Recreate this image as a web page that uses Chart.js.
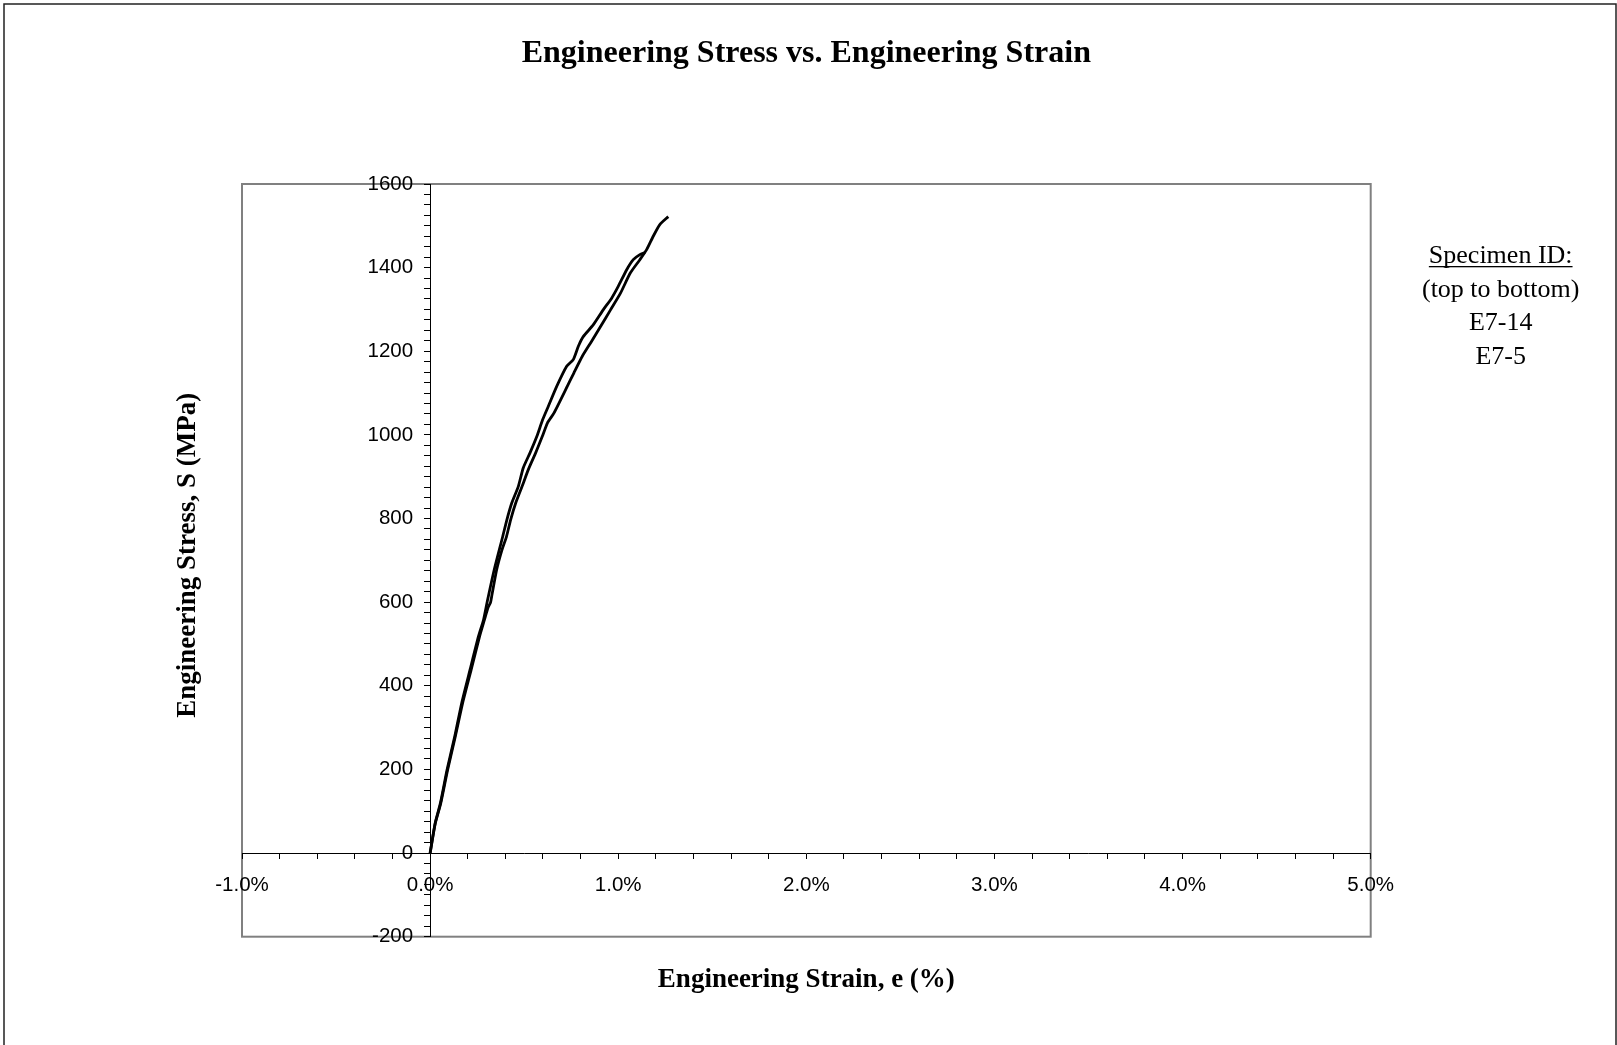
<!DOCTYPE html>
<html>
<head>
<meta charset="utf-8">
<script src="https://cdn.jsdelivr.net/npm/chart.js@4.4.1/dist/chart.umd.min.js"></script>
<style>
  html, body { margin: 0; padding: 0; background: #fff; }
  canvas { display: block; }
</style>
</head>
<body>
<canvas id="c" width="1617" height="1045"></canvas>
<script>
// ---- text ----
const chartTitle = 'Engineering Stress vs. Engineering Strain';
const xAxisTitle = 'Engineering Strain, e (%)';
const yAxisTitle = 'Engineering Stress, S (MPa)';
const noteLines = ['Specimen ID:', '(top to bottom)', 'E7-14', 'E7-5'];
const seriesNames = ['E7-14', 'E7-5'];

// ---- axes ----
const xTickValues = [-1, 0, 1, 2, 3, 4, 5];
const xTickLabels = ['-1.0%', '0.0%', '1.0%', '2.0%', '3.0%', '4.0%', '5.0%'];
const xMinorStep = 0.2;
const yTickValues = [-200, 0, 200, 400, 600, 800, 1000, 1200, 1400, 1600];
const yTickLabels = ['-200', '0', '200', '400', '600', '800', '1000', '1200', '1400', '1600'];
const yMinorStep = 25;

// ---- data: strain (%) and stress (MPa) ----
const strainE714 = [0, 0.027, 0.055, 0.090, 0.131, 0.168, 0.212, 0.257, 0.284, 0.304, 0.341, 0.386, 0.408, 0.434, 0.469, 0.495, 0.531, 0.567, 0.598, 0.628, 0.673, 0.726, 0.761, 0.788, 0.814, 0.867, 0.920, 0.965, 1.000, 1.045, 1.080, 1.115, 1.142];
const stressE714 = [0, 72, 120, 199, 279, 359, 438, 518, 558, 602, 678, 757, 797, 837, 877, 921, 957, 996, 1036, 1068, 1116, 1164, 1180, 1212, 1235, 1263, 1299, 1327, 1355, 1395, 1419, 1431, 1436];

const strainE75 = [0, 0.027, 0.056, 0.093, 0.134, 0.173, 0.218, 0.263, 0.289, 0.308, 0.321, 0.327, 0.354, 0.382, 0.406, 0.428, 0.455, 0.489, 0.522, 0.561, 0.596, 0.624, 0.658, 0.729, 0.764, 0.809, 0.853, 0.906, 0.959, 1.012, 1.064, 1.115, 1.151, 1.186, 1.221, 1.266];
const stressE75 = [0, 70, 118, 199, 279, 359, 438, 518, 558, 587, 599, 613, 678, 725, 757, 797, 837, 877, 917, 957, 996, 1029, 1052, 1116, 1148, 1188, 1220, 1259, 1299, 1339, 1387, 1419, 1443, 1475, 1503, 1522];

function toPoints(xs, ys) { return xs.map((x, i) => ({ x: x, y: ys[i] })); }
function labelFor(v, values, labels) {
  const i = values.findIndex(t => Math.abs(t - v) < 1e-6);
  return i >= 0 ? labels[i] : '';
}

const SANS = '"Liberation Sans", Arial, sans-serif';
const SERIF = '"Liberation Serif", "Times New Roman", serif';
const Y_LABEL_GAP = 17;

const decor = {
  id: 'decor',
  beforeDraw(chart) {
    const { ctx, chartArea: a } = chart;
    // keep y tick labels clear of the axis line (axis positioned at x = 0)
    const items = chart.scales.y.getLabelItems();
    if (!items._shifted) {
      items.forEach(it => { it.options.translation[0] -= Y_LABEL_GAP; });
      items._shifted = true;
    }
    ctx.save();
    ctx.fillStyle = '#fff';
    ctx.fillRect(0, 0, chart.width, chart.height);
    ctx.strokeStyle = '#222';
    ctx.lineWidth = 1.5;
    ctx.strokeRect(4, 4, 1612, 1100);
    ctx.strokeStyle = '#808080';
    ctx.lineWidth = 2;
    ctx.strokeRect(a.left, a.top, a.right - a.left, a.bottom - a.top);
    ctx.restore();
  },
  afterDraw(chart) {
    const { ctx, chartArea: a } = chart;
    ctx.save();
    ctx.fillStyle = '#000';
    ctx.font = 'bold 27px ' + SERIF;
    ctx.textAlign = 'center';
    ctx.textBaseline = 'middle';
    ctx.fillText(xAxisTitle, (a.left + a.right) / 2, a.bottom + 43);
    ctx.save();
    ctx.translate(a.left - 54, (a.top + a.bottom) / 2 - 5);
    ctx.rotate(-Math.PI / 2);
    ctx.fillText(yAxisTitle, 0, 0);
    ctx.restore();

    ctx.font = '26px ' + SERIF;
    ctx.textBaseline = 'alphabetic';
    const cx = a.right + 130;
    noteLines.forEach((t, i) => {
      const by = a.top + 79 + i * 33.6;
      ctx.fillText(t, cx, by);
      if (i === 0) {
        const w = ctx.measureText(t).width;
        ctx.fillRect(cx - w / 2, by + 3, w, 1.3);
      }
    });
    ctx.restore();
  }
};

new Chart(document.getElementById('c'), {
  type: 'scatter',
  data: {
    datasets: [
      { label: seriesNames[0], data: toPoints(strainE714, stressE714) },
      { label: seriesNames[1], data: toPoints(strainE75, stressE75) }
    ].map(d => Object.assign(d, {
      showLine: true, borderColor: '#000', backgroundColor: '#000',
      borderWidth: 2.8, pointRadius: 0, pointHoverRadius: 0, fill: false, tension: 0.2
    }))
  },
  options: {
    responsive: false,
    devicePixelRatio: 1,
    animation: false,
    events: [],
    layout: { padding: { left: 242, right: 246.3, top: 0, bottom: 108.3 } },
    plugins: {
      legend: { display: false },
      tooltip: { enabled: false },
      title: {
        display: true, text: chartTitle, color: '#000',
        font: { family: SERIF, size: 32, weight: 'bold' },
        padding: { top: 34.4, bottom: 111.2 }
      }
    },
    scales: {
      x: {
        type: 'linear', min: xTickValues[0], max: xTickValues[xTickValues.length - 1],
        position: { y: 0 },
        afterFit(s) { s.height = 0; },
        ticks: {
          stepSize: xMinorStep, autoSkip: false, maxRotation: 0, minRotation: 0,
          padding: 15, color: '#000', font: { family: SANS, size: 20.5 },
          callback: v => labelFor(v, xTickValues, xTickLabels)
        },
        grid: { display: true, drawOnChartArea: false, drawTicks: true, tickLength: 5, color: '#000', lineWidth: 1 },
        border: { display: true, color: '#000', width: 1 }
      },
      y: {
        type: 'linear', min: yTickValues[0], max: yTickValues[yTickValues.length - 1],
        position: { x: 0 },
        afterFit(s) { s.width = 0; },
        ticks: {
          stepSize: yMinorStep, autoSkip: false,
          padding: 12, color: '#000', font: { family: SANS, size: 20.5 },
          callback: v => labelFor(v, yTickValues, yTickLabels)
        },
        grid: { display: true, drawOnChartArea: false, drawTicks: true, tickLength: 6, color: '#000', lineWidth: 1 },
        border: { display: true, color: '#000', width: 1 }
      }
    }
  },
  plugins: [decor]
});
</script>
</body>
</html>
